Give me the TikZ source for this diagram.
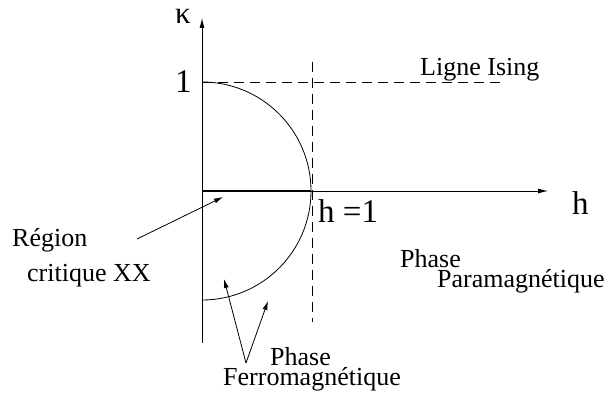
\documentclass[tikz,border=0pt]{standalone}
\usepackage{fontspec}
\setmainfont{Liberation Serif}
\usetikzlibrary{arrows.meta}
\begin{document}
\begin{tikzpicture}[x=1pt,y=1pt,
  lbl/.style={inner sep=0pt,anchor=base west,font=\fontsize{26}{30}\selectfont},
  axlbl/.style={inner sep=0pt,anchor=base west,font=\fontsize{33}{38}\selectfont},
  thin line/.style={line width=0.8pt},
  guide/.style={line width=0.8pt,dash pattern=on 10pt off 6pt},
  tip/.style={-{Latex[length=10pt,width=5pt]}}]
\useasboundingbox (0,0) rectangle (612,396);
% coordinates
\coordinate (O) at (202,205);
\coordinate (ybot) at (202,53);
\coordinate (ytop) at (202,378);
\coordinate (xend) at (548,205);
\coordinate (ctop) at (202,314);
\coordinate (cright) at (311,205);
\coordinate (vtop) at (312,334);
\coordinate (vbot) at (312,74);
\coordinate (hend) at (505,314);
\coordinate (rstart) at (137,157);
\coordinate (rtip) at (223,199);
\coordinate (fv) at (246,33);
\coordinate (ftipA) at (224,117);
\coordinate (ftipB) at (268,95);
% axes
\draw[thin line,tip] (ybot) -- (ytop);
\draw[thin line,tip] (O) -- (xend);
\draw[line width=2pt] (O) -- (cright);
% circle
\draw[thin line] (ctop) arc[start angle=90,end angle=-90,radius=109];
% dashed lines
\draw[guide] (vtop) -- (vbot);
\draw[guide] (ctop) -- (hend);
% labels
\node[inner sep=0pt,anchor=center,font=\fontsize{31}{34}\selectfont] (kappa) at (183,380) {κ};
\node[axlbl] (one) at (175,303) {1};
\node[axlbl] (h) at (572,181) {h};
\node[axlbl] (h1) at (318,173) {h =1};
\node[lbl] (ising) at (420,320) {Ligne Ising};
\node[lbl] (pp1) at (400,128) {Phase};
\node[lbl] (pp2) at (437,108) {Paramagnétique};
\node[lbl] (r1) at (12,149) {Région};
\node[lbl] (r2) at (27,114) {critique XX};
\node[lbl] (pf1) at (270,31) {Phase};
\node[lbl] (pf2) at (223,11) {Ferromagnétique};
% annotation arrows
\draw[thin line,-{Latex[length=9pt,width=5pt]}] (rstart) -- (rtip);
\draw[thin line,-{Latex[length=9pt,width=5pt]}] (fv) -- (ftipA);
\draw[thin line,-{Latex[length=9pt,width=5pt]}] (fv) -- (ftipB);
\end{tikzpicture}
\end{document}
